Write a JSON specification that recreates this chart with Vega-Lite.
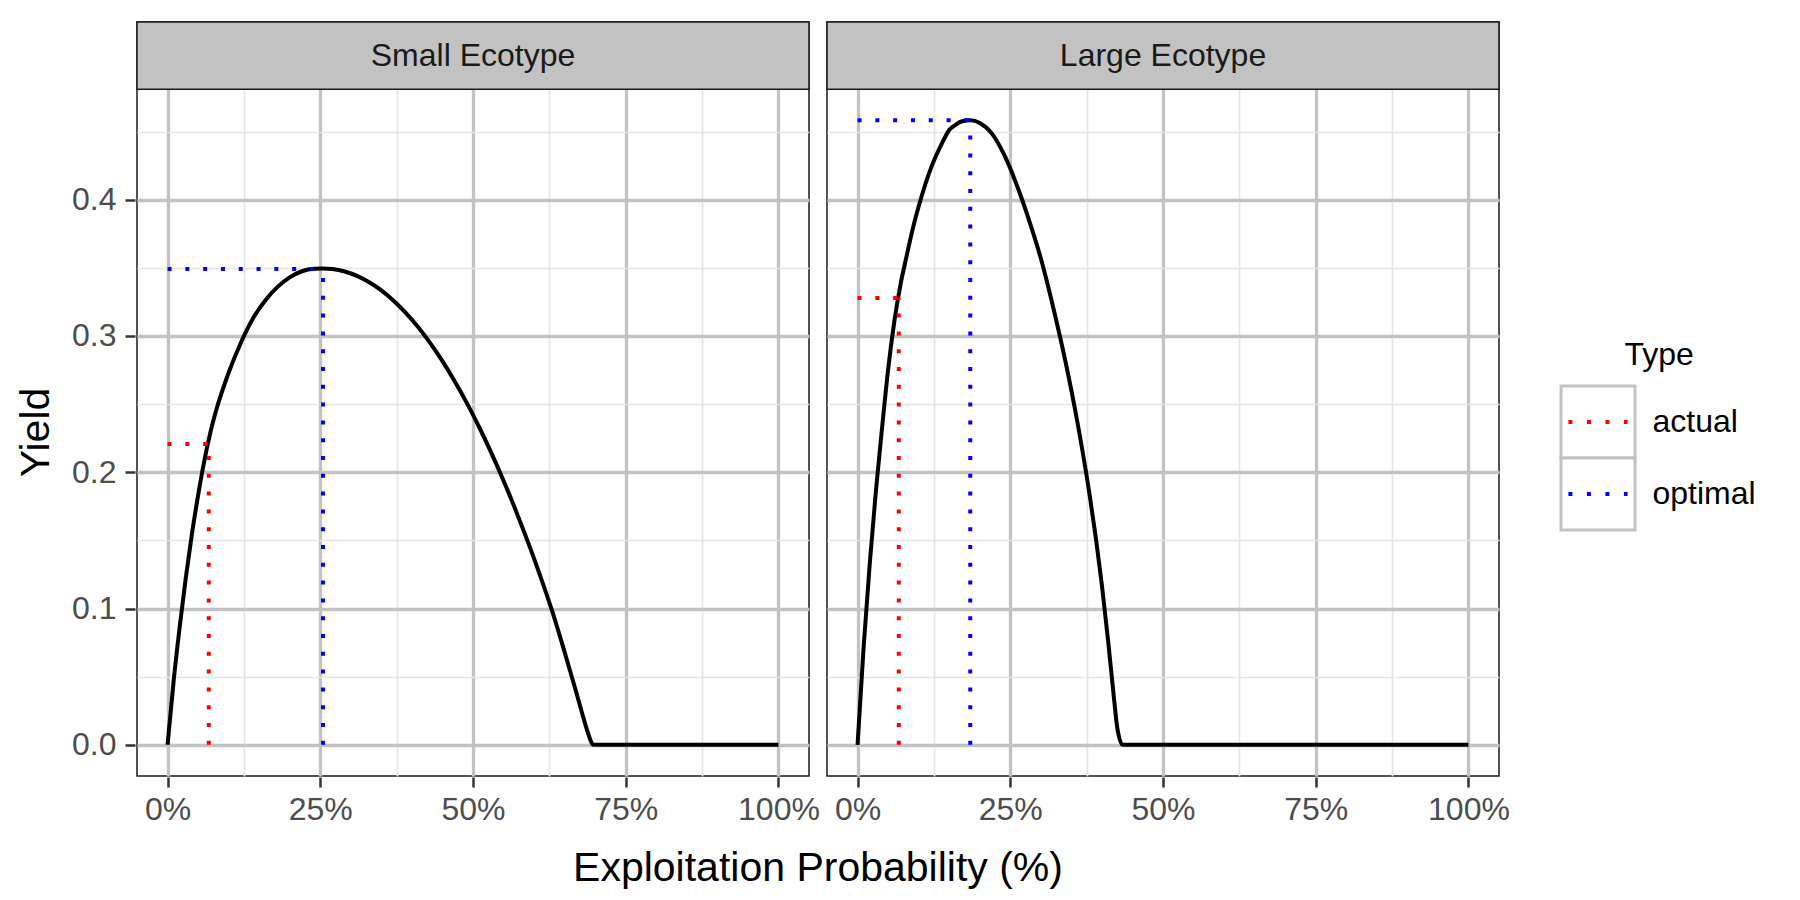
{
  "$schema": "https://vega.github.io/schema/vega-lite/v6.json",
  "background": "white",
  "padding": {"left": 15, "top": 20, "right": 5, "bottom": 5},
  "config": {"font": "Liberation Sans", "view": {"stroke": "#1A1A1A", "strokeWidth": 1.5}},
  "spacing": 49,
  "hconcat": [
    {
      "data": {"values": [
        {"Ecotype": "Small Ecotype", "kind": "curve", "exploitation": 0, "yield": 0},
        {"Ecotype": "Small Ecotype", "kind": "curve", "exploitation": 0.01, "yield": 0.047},
        {"Ecotype": "Small Ecotype", "kind": "curve", "exploitation": 0.02, "yield": 0.087},
        {"Ecotype": "Small Ecotype", "kind": "curve", "exploitation": 0.03, "yield": 0.123},
        {"Ecotype": "Small Ecotype", "kind": "curve", "exploitation": 0.04, "yield": 0.155},
        {"Ecotype": "Small Ecotype", "kind": "curve", "exploitation": 0.05, "yield": 0.183},
        {"Ecotype": "Small Ecotype", "kind": "curve", "exploitation": 0.06, "yield": 0.208},
        {"Ecotype": "Small Ecotype", "kind": "curve", "exploitation": 0.07, "yield": 0.229},
        {"Ecotype": "Small Ecotype", "kind": "curve", "exploitation": 0.08, "yield": 0.246},
        {"Ecotype": "Small Ecotype", "kind": "curve", "exploitation": 0.10, "yield": 0.273},
        {"Ecotype": "Small Ecotype", "kind": "curve", "exploitation": 0.12, "yield": 0.295},
        {"Ecotype": "Small Ecotype", "kind": "curve", "exploitation": 0.14, "yield": 0.313},
        {"Ecotype": "Small Ecotype", "kind": "curve", "exploitation": 0.16, "yield": 0.326},
        {"Ecotype": "Small Ecotype", "kind": "curve", "exploitation": 0.18, "yield": 0.336},
        {"Ecotype": "Small Ecotype", "kind": "curve", "exploitation": 0.20, "yield": 0.343},
        {"Ecotype": "Small Ecotype", "kind": "curve", "exploitation": 0.22, "yield": 0.3475},
        {"Ecotype": "Small Ecotype", "kind": "curve", "exploitation": 0.24, "yield": 0.3493},
        {"Ecotype": "Small Ecotype", "kind": "curve", "exploitation": 0.255, "yield": 0.3495},
        {"Ecotype": "Small Ecotype", "kind": "curve", "exploitation": 0.27, "yield": 0.3491},
        {"Ecotype": "Small Ecotype", "kind": "curve", "exploitation": 0.29, "yield": 0.3473},
        {"Ecotype": "Small Ecotype", "kind": "curve", "exploitation": 0.31, "yield": 0.3441},
        {"Ecotype": "Small Ecotype", "kind": "curve", "exploitation": 0.33, "yield": 0.3394},
        {"Ecotype": "Small Ecotype", "kind": "curve", "exploitation": 0.35, "yield": 0.3334},
        {"Ecotype": "Small Ecotype", "kind": "curve", "exploitation": 0.37, "yield": 0.3258},
        {"Ecotype": "Small Ecotype", "kind": "curve", "exploitation": 0.39, "yield": 0.3169},
        {"Ecotype": "Small Ecotype", "kind": "curve", "exploitation": 0.41, "yield": 0.3065},
        {"Ecotype": "Small Ecotype", "kind": "curve", "exploitation": 0.43, "yield": 0.2947},
        {"Ecotype": "Small Ecotype", "kind": "curve", "exploitation": 0.45, "yield": 0.2815},
        {"Ecotype": "Small Ecotype", "kind": "curve", "exploitation": 0.47, "yield": 0.2668},
        {"Ecotype": "Small Ecotype", "kind": "curve", "exploitation": 0.49, "yield": 0.2507},
        {"Ecotype": "Small Ecotype", "kind": "curve", "exploitation": 0.51, "yield": 0.2332},
        {"Ecotype": "Small Ecotype", "kind": "curve", "exploitation": 0.53, "yield": 0.2142},
        {"Ecotype": "Small Ecotype", "kind": "curve", "exploitation": 0.55, "yield": 0.1938},
        {"Ecotype": "Small Ecotype", "kind": "curve", "exploitation": 0.57, "yield": 0.172},
        {"Ecotype": "Small Ecotype", "kind": "curve", "exploitation": 0.59, "yield": 0.1487},
        {"Ecotype": "Small Ecotype", "kind": "curve", "exploitation": 0.61, "yield": 0.124},
        {"Ecotype": "Small Ecotype", "kind": "curve", "exploitation": 0.63, "yield": 0.0975},
        {"Ecotype": "Small Ecotype", "kind": "curve", "exploitation": 0.65, "yield": 0.068},
        {"Ecotype": "Small Ecotype", "kind": "curve", "exploitation": 0.66, "yield": 0.0525},
        {"Ecotype": "Small Ecotype", "kind": "curve", "exploitation": 0.67, "yield": 0.037},
        {"Ecotype": "Small Ecotype", "kind": "curve", "exploitation": 0.68, "yield": 0.021},
        {"Ecotype": "Small Ecotype", "kind": "curve", "exploitation": 0.688, "yield": 0.009},
        {"Ecotype": "Small Ecotype", "kind": "curve", "exploitation": 0.697, "yield": 0},
        {"Ecotype": "Small Ecotype", "kind": "curve", "exploitation": 1.0, "yield": 0},
        {"Ecotype": "Large Ecotype", "kind": "curve", "exploitation": 0, "yield": 0},
        {"Ecotype": "Large Ecotype", "kind": "curve", "exploitation": 0.01, "yield": 0.072},
        {"Ecotype": "Large Ecotype", "kind": "curve", "exploitation": 0.02, "yield": 0.133},
        {"Ecotype": "Large Ecotype", "kind": "curve", "exploitation": 0.03, "yield": 0.186},
        {"Ecotype": "Large Ecotype", "kind": "curve", "exploitation": 0.04, "yield": 0.232},
        {"Ecotype": "Large Ecotype", "kind": "curve", "exploitation": 0.05, "yield": 0.275},
        {"Ecotype": "Large Ecotype", "kind": "curve", "exploitation": 0.06, "yield": 0.31},
        {"Ecotype": "Large Ecotype", "kind": "curve", "exploitation": 0.07, "yield": 0.337},
        {"Ecotype": "Large Ecotype", "kind": "curve", "exploitation": 0.08, "yield": 0.358},
        {"Ecotype": "Large Ecotype", "kind": "curve", "exploitation": 0.09, "yield": 0.378},
        {"Ecotype": "Large Ecotype", "kind": "curve", "exploitation": 0.10, "yield": 0.395},
        {"Ecotype": "Large Ecotype", "kind": "curve", "exploitation": 0.12, "yield": 0.423},
        {"Ecotype": "Large Ecotype", "kind": "curve", "exploitation": 0.14, "yield": 0.443},
        {"Ecotype": "Large Ecotype", "kind": "curve", "exploitation": 0.15, "yield": 0.4512},
        {"Ecotype": "Large Ecotype", "kind": "curve", "exploitation": 0.16, "yield": 0.4548},
        {"Ecotype": "Large Ecotype", "kind": "curve", "exploitation": 0.17, "yield": 0.4574},
        {"Ecotype": "Large Ecotype", "kind": "curve", "exploitation": 0.185, "yield": 0.4583},
        {"Ecotype": "Large Ecotype", "kind": "curve", "exploitation": 0.20, "yield": 0.4563},
        {"Ecotype": "Large Ecotype", "kind": "curve", "exploitation": 0.22, "yield": 0.4485},
        {"Ecotype": "Large Ecotype", "kind": "curve", "exploitation": 0.24, "yield": 0.433},
        {"Ecotype": "Large Ecotype", "kind": "curve", "exploitation": 0.26, "yield": 0.4115},
        {"Ecotype": "Large Ecotype", "kind": "curve", "exploitation": 0.28, "yield": 0.386},
        {"Ecotype": "Large Ecotype", "kind": "curve", "exploitation": 0.30, "yield": 0.357},
        {"Ecotype": "Large Ecotype", "kind": "curve", "exploitation": 0.32, "yield": 0.3215},
        {"Ecotype": "Large Ecotype", "kind": "curve", "exploitation": 0.34, "yield": 0.282},
        {"Ecotype": "Large Ecotype", "kind": "curve", "exploitation": 0.36, "yield": 0.2365},
        {"Ecotype": "Large Ecotype", "kind": "curve", "exploitation": 0.38, "yield": 0.183},
        {"Ecotype": "Large Ecotype", "kind": "curve", "exploitation": 0.39, "yield": 0.152},
        {"Ecotype": "Large Ecotype", "kind": "curve", "exploitation": 0.40, "yield": 0.117},
        {"Ecotype": "Large Ecotype", "kind": "curve", "exploitation": 0.41, "yield": 0.077},
        {"Ecotype": "Large Ecotype", "kind": "curve", "exploitation": 0.42, "yield": 0.033},
        {"Ecotype": "Large Ecotype", "kind": "curve", "exploitation": 0.425, "yield": 0.013},
        {"Ecotype": "Large Ecotype", "kind": "curve", "exploitation": 0.434, "yield": 0},
        {"Ecotype": "Large Ecotype", "kind": "curve", "exploitation": 1.0, "yield": 0},
        {"Ecotype": "Small Ecotype", "kind": "vseg", "Type": "actual", "exploitation": 0.0675, "yield": 0},
        {"Ecotype": "Small Ecotype", "kind": "vseg", "Type": "actual", "exploitation": 0.0675, "yield": 0.2208},
        {"Ecotype": "Small Ecotype", "kind": "vseg", "Type": "optimal", "exploitation": 0.2545, "yield": 0},
        {"Ecotype": "Small Ecotype", "kind": "vseg", "Type": "optimal", "exploitation": 0.2545, "yield": 0.3492},
        {"Ecotype": "Large Ecotype", "kind": "vseg", "Type": "actual", "exploitation": 0.0675, "yield": 0},
        {"Ecotype": "Large Ecotype", "kind": "vseg", "Type": "actual", "exploitation": 0.0675, "yield": 0.3278},
        {"Ecotype": "Large Ecotype", "kind": "vseg", "Type": "optimal", "exploitation": 0.1845, "yield": 0},
        {"Ecotype": "Large Ecotype", "kind": "vseg", "Type": "optimal", "exploitation": 0.1845, "yield": 0.4583},
        {"Ecotype": "Small Ecotype", "kind": "hseg", "Type": "actual", "exploitation": 0, "yield": 0.2208},
        {"Ecotype": "Small Ecotype", "kind": "hseg", "Type": "actual", "exploitation": 0.0675, "yield": 0.2208},
        {"Ecotype": "Small Ecotype", "kind": "hseg", "Type": "optimal", "exploitation": 0, "yield": 0.3492},
        {"Ecotype": "Small Ecotype", "kind": "hseg", "Type": "optimal", "exploitation": 0.2545, "yield": 0.3492},
        {"Ecotype": "Large Ecotype", "kind": "hseg", "Type": "actual", "exploitation": 0, "yield": 0.3278},
        {"Ecotype": "Large Ecotype", "kind": "hseg", "Type": "actual", "exploitation": 0.0675, "yield": 0.3278},
        {"Ecotype": "Large Ecotype", "kind": "hseg", "Type": "optimal", "exploitation": 0, "yield": 0.4583},
        {"Ecotype": "Large Ecotype", "kind": "hseg", "Type": "optimal", "exploitation": 0.1845, "yield": 0.4583},
        {"Ecotype": "Small Ecotype", "kind": "strip"},
        {"Ecotype": "Large Ecotype", "kind": "strip"}
      ]},
      "facet": {
        "column": {
          "field": "Ecotype", "type": "nominal", "sort": ["Small Ecotype", "Large Ecotype"],
          "title": "Exploitation Probability (%)",
          "header": {"labels": false, "titleOrient": "bottom", "titleFontSize": 41, "titleFont": "Liberation Sans", "titleColor": "black", "titleFontWeight": "normal", "titlePadding": 14}
        }
      },
      "spacing": {"column": 14},
      "spec": {
        "width": 672,
        "height": 754,
        "layer": [
          {
            "transform": [{"filter": "datum.kind === 'curve'"}],
            "mark": {"type": "line", "color": "black", "strokeWidth": 4, "interpolate": "monotone"},
            "encoding": {
              "x": {
                "field": "exploitation", "type": "quantitative",
                "scale": {"domain": [-0.05, 1.05], "nice": false, "zero": false},
                "axis": {
                  "title": null,
                  "values": [0, 0.125, 0.25, 0.375, 0.5, 0.625, 0.75, 0.875, 1],
                  "format": ".0%",
                  "labelExpr": "(round(datum.value*8) % 2 == 0) ? datum.label : ''",
                  "domain": false,
                  "grid": true,
                  "gridColor": {"condition": {"test": "round(datum.value*8) % 2 == 1", "value": "#E5E5E5"}, "value": "#C2C2C2"},
                  "gridWidth": {"condition": {"test": "round(datum.value*8) % 2 == 1", "value": 1.7}, "value": 3.3},
                  "tickColor": "#333333", "tickWidth": 2.5, "tickSize": 10,
                  "tickOpacity": {"condition": {"test": "round(datum.value*8) % 2 == 1", "value": 0}, "value": 1},
                  "labelFontSize": 32, "labelColor": "#4D4D4D", "labelPadding": 7,
                  "labelFont": "Liberation Sans", "labelFlush": false, "labelOverlap": false
                }
              },
              "y": {
                "field": "yield", "type": "quantitative",
                "scale": {"domain": [-0.0229, 0.5304], "nice": false, "zero": false},
                "axis": {
                  "title": "Yield",
                  "values": [0, 0.05, 0.1, 0.15, 0.2, 0.25, 0.3, 0.35, 0.4, 0.45],
                  "labelExpr": "(round(datum.value*20) % 2 == 0) ? format(datum.value, '.1f') : ''",
                  "domain": false,
                  "grid": true,
                  "gridColor": {"condition": {"test": "round(datum.value*20) % 2 == 1", "value": "#E5E5E5"}, "value": "#C2C2C2"},
                  "gridWidth": {"condition": {"test": "round(datum.value*20) % 2 == 1", "value": 1.7}, "value": 3.3},
                  "tickColor": "#333333", "tickWidth": 2.5, "tickSize": 10,
                  "tickOpacity": {"condition": {"test": "round(datum.value*20) % 2 == 1", "value": 0}, "value": 1},
                  "labelFontSize": 32, "labelColor": "#4D4D4D", "labelPadding": 9,
                  "labelFont": "Liberation Sans", "labelOverlap": false,
                  "titleFont": "Liberation Sans", "titleFontSize": 41, "titleFontWeight": "normal", "titleColor": "black",
                  "titleAngle": 270, "titleAlign": "center", "titleBaseline": "alphabetic",
                  "titleX": -87, "titleY": 410
                }
              }
            }
          },
          {
            "transform": [{"filter": "datum.kind === 'vseg'"}],
            "mark": {"type": "line", "strokeWidth": 4, "strokeDash": [4, 13.8], "strokeCap": "butt"},
            "encoding": {
              "x": {"field": "exploitation", "type": "quantitative"},
              "y": {"field": "yield", "type": "quantitative"},
              "order": {"field": "yield", "type": "quantitative"},
              "color": {"field": "Type", "type": "nominal", "scale": {"domain": ["actual", "optimal"], "range": ["#FF0000", "#0000FF"]}, "legend": null}
            }
          },
          {
            "transform": [{"filter": "datum.kind === 'hseg'"}],
            "mark": {"type": "line", "strokeWidth": 4, "strokeDash": [4, 13.8], "strokeCap": "butt"},
            "encoding": {
              "x": {"field": "exploitation", "type": "quantitative"},
              "y": {"field": "yield", "type": "quantitative"},
              "order": {"field": "exploitation", "type": "quantitative"},
              "color": {"field": "Type", "type": "nominal", "legend": null}
            }
          },
          {
            "transform": [{"filter": "datum.kind === 'strip'"}],
            "mark": {"type": "rect", "fill": "#C2C2C2", "stroke": "#1A1A1A", "strokeWidth": 1.5},
            "encoding": {
              "x": {"datum": -0.05, "type": "quantitative"},
              "x2": {"datum": 1.05},
              "y": {"datum": 0.481, "type": "quantitative"},
              "y2": {"datum": 0.5304}
            }
          },
          {
            "transform": [{"filter": "datum.kind === 'strip'"}],
            "mark": {"type": "text", "fontSize": 32, "color": "#1A1A1A", "baseline": "middle", "font": "Liberation Sans"},
            "encoding": {
              "text": {"field": "Ecotype", "type": "nominal"},
              "x": {"datum": 0.5, "type": "quantitative"},
              "y": {"datum": 0.5055, "type": "quantitative"}
            }
          }
        ]
      }
    },
    {
      "data": {"values": [{"Type": "actual"}, {"Type": "optimal"}]},
      "width": 74,
      "height": 754,
      "view": {"stroke": null},
      "layer": [
        {
          "mark": {"type": "rect", "fill": "white", "stroke": "#C2C2C2", "strokeWidth": 3},
          "encoding": {
            "y": {
              "field": "Type", "type": "nominal",
              "scale": {"domain": ["actual", "optimal"], "paddingInner": 0, "paddingOuter": 0, "range": [364, 508]},
              "axis": {
                "orient": "right", "title": "Type", "titleAngle": 0, "titleX": -11, "titleY": 342,
                "titleAlign": "left", "titleBaseline": "alphabetic", "titleFontSize": 32, "titleFontWeight": "normal",
                "titleColor": "black", "titleFont": "Liberation Sans",
                "labelFontSize": 32, "labelColor": "black", "labelFont": "Liberation Sans",
                "ticks": false, "tickSize": 0, "domain": false, "grid": false, "labelPadding": 17
              }
            },
            "x": {"datum": 0, "type": "quantitative", "scale": {"domain": [0, 1]}, "axis": null},
            "x2": {"datum": 1}
          }
        },
        {
          "mark": {"type": "rule", "strokeWidth": 4, "strokeDash": [4, 14.5], "strokeCap": "butt"},
          "encoding": {
            "y": {"field": "Type", "type": "nominal"},
            "x": {"datum": 0.1, "type": "quantitative"},
            "x2": {"datum": 0.9},
            "color": {"field": "Type", "type": "nominal", "legend": null}
          }
        }
      ]
    }
  ]
}
